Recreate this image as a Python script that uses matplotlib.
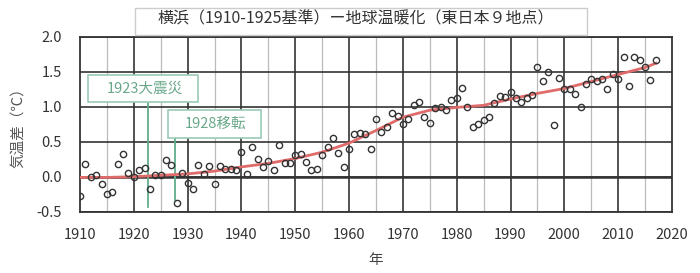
import numpy as np
import matplotlib
matplotlib.use("Agg")
import matplotlib.pyplot as plt
from matplotlib.patches import Rectangle

plt.rcParams['font.family'] = ['Noto Sans CJK JP', 'DejaVu Sans']

# annual temperature anomaly (deg C), Yokohama minus 9 east-Japan sites
years = list(range(1910, 2018))
anomaly = [
    -0.27, 0.18, -0.01, 0.02, -0.10, -0.25, -0.22, 0.18, 0.32, 0.06,   # 1910s
    -0.01, 0.10, 0.13, -0.18, 0.03, 0.02, 0.24, 0.17, -0.37, 0.06,     # 1920s
    -0.09, -0.18, 0.17, 0.04, 0.16, -0.11, 0.16, 0.11, 0.11, 0.10,     # 1930s
    0.35, 0.04, 0.42, 0.26, 0.14, 0.22, 0.10, 0.45, 0.19, 0.20,        # 1940s
    0.31, 0.32, 0.21, 0.10, 0.11, 0.31, 0.43, 0.56, 0.34, 0.14,        # 1950s
    0.39, 0.61, 0.62, 0.61, 0.39, 0.83, 0.64, 0.71, 0.91, 0.87,        # 1960s
    0.75, 0.83, 1.02, 1.06, 0.86, 0.76, 0.98, 1.00, 0.95, 1.09,        # 1970s
    1.13, 1.27, 1.00, 0.71, 0.75, 0.81, 0.85, 1.05, 1.15, 1.14,        # 1980s
    1.21, 1.13, 1.06, 1.12, 1.17, 1.57, 1.36, 1.50, 0.74, 1.41,        # 1990s
    1.25, 1.25, 1.18, 1.00, 1.32, 1.40, 1.37, 1.40, 1.25, 1.46,        # 2000s
    1.40, 1.71, 1.29, 1.71, 1.67, 1.56, 1.38, 1.67,                    # 2010s
]

# smoothed trend
trend_years = [1910, 1915, 1920, 1925, 1930, 1935, 1940, 1945, 1950, 1955, 1960,
               1965, 1970, 1975, 1980, 1985, 1990, 1995, 2000, 2005, 2010, 2015, 2017]
trend_vals = [-0.01, -0.01, 0.00, 0.02, 0.04, 0.08, 0.14, 0.19, 0.26, 0.35, 0.48,
              0.66, 0.85, 0.95, 0.99, 1.02, 1.11, 1.19, 1.26, 1.36, 1.46, 1.56, 1.62]

event_labels = ['1923大震災', '1928移転']
event_x = [1922.6, 1927.6]
event_ybottom = [-0.43, -0.33]

title = '横浜（1910-1925基準）ー地球温暖化（東日本９地点）'

fig = plt.figure(figsize=(7, 2.73), dpi=100)
ax = fig.add_axes([80/700, 1-211.7/273, 592/700, 175/273])

# grid
for x in range(1915, 2020, 10):
    ax.axvline(x, color='#bbbbbb', lw=0.9, zorder=0)
for x in range(1920, 2020, 10):
    ax.axvline(x, color='#333333', lw=1.2, zorder=0)
for y in np.arange(-0.5, 2.01, 0.5):
    ax.axhline(y, color='#333333', lw=1.2, zorder=0)
ax.axhline(0, color='#333333', lw=1.8, zorder=0)

# event annotations
green = '#5fae8e'
box_green = '#9ccbb5'
txt_green = '#6aa88a'
boxes = [(1911.5, 1.063, 20.45, 0.384), (1926.4, 0.549, 17.15, 0.404)]
for lab, ex, eb, (bx, by, bw, bh) in zip(event_labels, event_x, event_ybottom, boxes):
    ax.add_patch(Rectangle((bx, by), bw, bh, facecolor='white', edgecolor=box_green,
                           lw=1.2, zorder=3))
    ax.text(bx + bw/2 + 0.3, by + bh/2, lab, color=txt_green, fontsize=10.5,
            ha='center', va='center', zorder=4)
    ax.plot([ex, ex], [by, eb], color=green, lw=1.3, zorder=2)

ax.plot(trend_years, trend_vals, color='#e06b6b', lw=2, zorder=5)
ax.plot(years, anomaly, 'o', ms=4.5, mfc='none', mec='#333333', mew=1.0, zorder=6)

ax.set_xlim(1910, 2020)
ax.set_ylim(-0.5, 2.0)
ax.set_xticks(range(1910, 2021, 10))
ax.set_yticks(np.arange(-0.5, 2.01, 0.5))
ax.set_yticklabels(['%.1f' % v for v in np.arange(-0.5, 2.01, 0.5)])
ax.tick_params(length=0, labelsize=10.5, colors='#333333')
ax.tick_params(axis='y', pad=13)
ax.tick_params(axis='x', pad=12)
for s in ax.spines.values():
    s.set_color('#333333')
    s.set_linewidth(1.3)

ax.set_xlabel('年', fontsize=10.5, color='#444444', labelpad=8)
ax.set_ylabel('気温差（℃）', fontsize=10.5, color='#555555', labelpad=8)

fig.patches.append(Rectangle((135/700, 1-35/273), 452/700, 27/273, transform=fig.transFigure,
                             facecolor='white', edgecolor='#cccccc', lw=1))
fig.text(356/700, 1-19/273, title, fontsize=11.5, color='#333333', ha='center', va='center')

fig.savefig('out.png', dpi=100, facecolor='white')
